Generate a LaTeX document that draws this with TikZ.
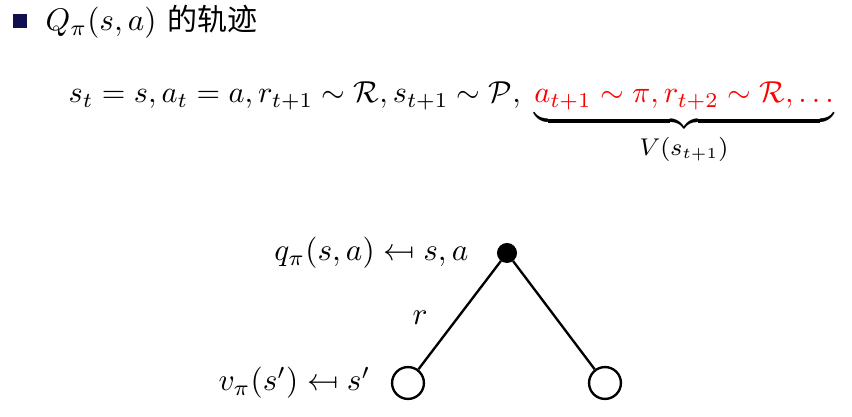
\documentclass[tikz,border=0pt]{standalone}
\usepackage{fontspec}
\usepackage{amsmath,amssymb}
\usepackage{stmaryrd}
\newfontfamily\cjk{Noto Sans CJK SC}
\definecolor{navy}{RGB}{16,16,80}
\definecolor{myred}{RGB}{255,0,0}
\tikzset{
  filled/.style={circle,fill=black,draw=black,inner sep=0pt,minimum size=6pt},
  hollow/.style={circle,draw=black,line width=0.75pt,fill=white,inner sep=0pt,minimum size=10.2pt},
  edge/.style={line width=0.75pt},
  lab/.style={inner sep=0pt}
}
\begin{document}
\begin{tikzpicture}[x=0.32pt,y=-0.32pt]
\useasboundingbox (0,0) rectangle (852,417);
\node[fill=navy,minimum size=4.3pt,inner sep=0pt] (bullet) at (20,21) {};
\node[lab,anchor=base west] (title) at (45,31) {$Q_\pi(s,a)$\ {\cjk\fontsize{9.6}{12}\selectfont 的轨迹}};
\node[lab,anchor=base west,scale=0.97,transform shape] (formula) at (68,103) {$s_t=s, a_t=a, r_{t+1}\sim\mathcal{R}, s_{t+1}\sim\mathcal{P},\;\underbrace{\textcolor{myred}{a_{t+1}\sim\pi, r_{t+2}\sim\mathcal{R},\ldots}}_{\text{\fontsize{7.7}{9}\selectfont$V(s_{t+1})$}}$};
\node[filled] (top) at (507,253) {};
\node[hollow] (left) at (408,383) {};
\node[hollow] (right) at (605,383) {};
\draw[edge] (top) -- (left);
\draw[edge] (top) -- (right);
\node[lab,anchor=east] (qlab) at (469,253) {$q_\pi(s,a)\mapsfrom s,a$};
\node[lab] (rlab) at (420,318) {$r$};
\node[lab,anchor=east] (vlab) at (371,383) {$v_\pi(s')\mapsfrom s'$};
\end{tikzpicture}
\end{document}
